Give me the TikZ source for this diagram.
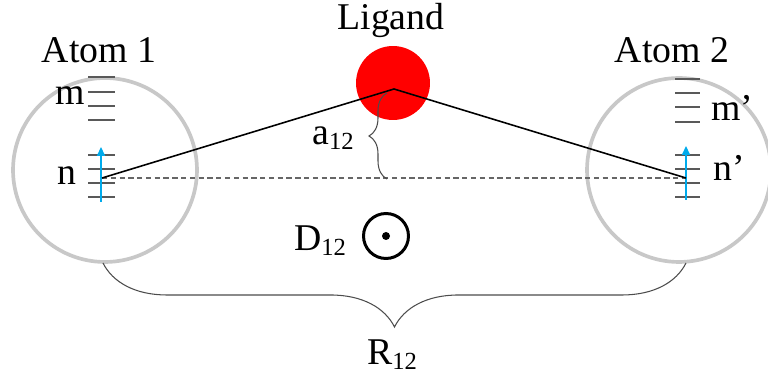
\documentclass[tikz,border=0pt]{standalone}
\usepackage{fontspec}
\setmainfont{Liberation Serif}
\usepackage{xcolor}
\usepackage{tikz}
\usetikzlibrary{decorations.pathreplacing,arrows.meta}

\definecolor{atomgray}{RGB}{200,200,200}
\definecolor{spinblue}{RGB}{0,170,235}
\newcommand{\lowsub}[1]{\raisebox{-3pt}{\fontsize{14}{14}\selectfont #1}}

\begin{document}
\begin{tikzpicture}[x=0.02cm,y=-0.02cm,
    every node/.style={font=\fontsize{21.5}{24}\selectfont},
    atom/.style={draw=atomgray,line width=2.1pt,circle,minimum size=3.68cm},
    level/.style={black!65,line width=0.6pt},
    spin/.style={spinblue,line width=0.8pt,-{Triangle[length=5pt,width=4.5pt]}},
    bond/.style={black,line width=0.9pt},
    brc/.style={black!70,line width=0.6pt,decorate,decoration={brace,amplitude=#1}}]
    \useasboundingbox (0,0) rectangle (768,384);
    \node[atom] (atom1) at (105,170) {};
    \node[atom] (atom2) at (679,170) {};
    \node[circle,fill=red,minimum size=1.48cm] (lig) at (393,83) {};
    \node (ligtext) at (391,20) {Ligand};
    \node (a1text) at (99,50) {Atom 1};
    \node (a2text) at (672,50) {Atom 2};
    \foreach \y in {77,92,106,120,155,169,183,197} \draw[level] (88,\y) -- (115,\y);
    \foreach \y in {79,93,107,122,155,169,183,197} \draw[level] (675,\y) -- (700,\y);
    \draw[spin] (101,202) -- (101,147);
    \draw[spin] (686,200) -- (686,146);
    \node (m1) at (70,96) {m};
    \node (n1lab) at (67,176) {n};
    \node (m2) at (732,108) {m’};
    \node (n2lab) at (729,168) {n’};
    \coordinate (n1) at (102,178);
    \coordinate (n2) at (686,178);
    \coordinate (peak) at (394,89);
    \draw[black!60,line width=0.7pt,dash pattern=on 3pt off 2pt] (n1) -- (n2);
    \draw[bond] (n1) -- (peak) -- (n2);
    \draw[brc=0.36cm] (387,179) -- (387,93);
    \node (alab) at (333,138) {a\lowsub{12}};
    \node[draw,circle,line width=1.7pt,minimum size=0.9cm] (dip) at (386,236) {};
    \fill (dip.center) circle (0.08cm);
    \node (dlab) at (320,241) {D\lowsub{12}};
    \draw[brc=1.28cm] (686,263) -- (103,263);
    \node (rlab) at (392,355) {R\lowsub{12}};
\end{tikzpicture}
\end{document}
